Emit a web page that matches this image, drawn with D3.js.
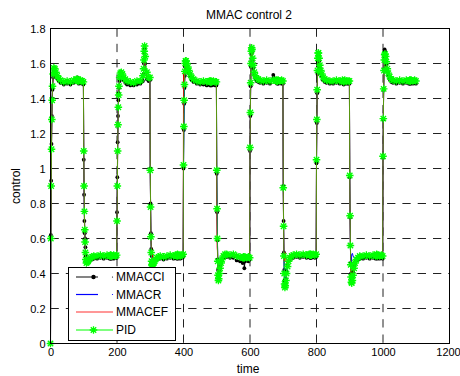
<!DOCTYPE html>
<html lang="en">
<head>
  <meta charset="utf-8">
  <title>MMAC control 2</title>
  <script type="text/javascript" src="https://d3js.org/d3.v7.min.js"></script>
  <style>
    body { margin: 0; background: #fff; }
    text { font-family: "Liberation Sans", Arial, sans-serif; fill: #000; }
  </style>
</head>
<body>
  <script type="text/javascript">

  // start of each 100-step segment and the sample offsets read inside a segment
  var segStart = [0, 100, 200, 300, 400, 500, 600, 700, 800, 900, 1000];
  var offsets = [0, 1, 2, 3, 4, 5, 6, 8, 10, 13, 16, 20, 25, 30, 40, 50, 60, 70, 78, 80, 81, 82, 83, 85, 90, 95, 99];

  var xTicks = [0, 200, 400, 600, 800, 1000, 1200];
  var yTicks = [0, 0.2, 0.4, 0.6, 0.8, 1, 1.2, 1.4, 1.6, 1.8];
  var seriesNames = ["MMACCI", "MMACR", "MMACEF", "PID"];

  // values, one row per segment
  var mmacci = [
    [0, 0.62, 0.93, 1.14, 1.30, 1.40, 1.45, 1.52, 1.555, 1.555, 1.535, 1.515, 1.50, 1.49, 1.48, 1.485, 1.48, 1.49, 1.495, 1.50, 1.52, 1.505, 1.49, 1.485, 1.49, 1.485, 1.48],
    [1.05, 0.85, 0.70, 0.63, 0.60, 0.55, 0.50, 0.47, 0.465, 0.465, 0.47, 0.475, 0.48, 0.485, 0.485, 0.49, 0.485, 0.49, 0.485, 0.49, 0.485, 0.49, 0.485, 0.49, 0.485, 0.49, 0.49],
    [0.75, 0.95, 1.15, 1.30, 1.39, 1.43, 1.46, 1.50, 1.525, 1.53, 1.525, 1.505, 1.49, 1.48, 1.475, 1.475, 1.48, 1.485, 1.50, 1.54, 1.60, 1.66, 1.68, 1.60, 1.51, 1.50, 1.505],
    [1.00, 0.80, 0.63, 0.54, 0.50, 0.475, 0.47, 0.465, 0.465, 0.47, 0.475, 0.48, 0.485, 0.485, 0.48, 0.485, 0.49, 0.485, 0.49, 0.485, 0.49, 0.495, 0.485, 0.49, 0.485, 0.49, 0.495],
    [1.00, 1.22, 1.37, 1.46, 1.53, 1.58, 1.60, 1.60, 1.585, 1.565, 1.545, 1.525, 1.505, 1.495, 1.485, 1.48, 1.48, 1.475, 1.48, 1.475, 1.48, 1.475, 1.48, 1.475, 1.48, 1.475, 1.475],
    [0.97, 0.75, 0.59, 0.48, 0.42, 0.40, 0.40, 0.42, 0.44, 0.46, 0.475, 0.49, 0.495, 0.495, 0.49, 0.49, 0.475, 0.47, 0.46, 0.47, 0.465, 0.47, 0.43, 0.47, 0.475, 0.47, 0.48],
    [1.10, 1.30, 1.47, 1.58, 1.65, 1.67, 1.66, 1.61, 1.57, 1.535, 1.515, 1.50, 1.495, 1.49, 1.485, 1.49, 1.485, 1.535, 1.51, 1.49, 1.49, 1.485, 1.49, 1.485, 1.49, 1.485, 1.485],
    [0.90, 0.70, 0.52, 0.42, 0.36, 0.34, 0.345, 0.37, 0.41, 0.445, 0.47, 0.48, 0.49, 0.49, 0.495, 0.49, 0.495, 0.49, 0.495, 0.49, 0.495, 0.49, 0.495, 0.49, 0.495, 0.49, 0.495],
    [1.03, 1.26, 1.43, 1.54, 1.61, 1.64, 1.645, 1.615, 1.575, 1.545, 1.525, 1.505, 1.495, 1.49, 1.485, 1.485, 1.49, 1.485, 1.49, 1.485, 1.485, 1.48, 1.485, 1.49, 1.485, 1.485, 1.485],
    [0.95, 0.72, 0.56, 0.46, 0.40, 0.375, 0.37, 0.385, 0.41, 0.44, 0.465, 0.475, 0.48, 0.485, 0.485, 0.49, 0.485, 0.49, 0.485, 0.49, 0.495, 0.49, 0.485, 0.49, 0.485, 0.49, 0.485],
    [1.06, 1.28, 1.45, 1.57, 1.64, 1.68, 1.67, 1.635, 1.59, 1.555, 1.53, 1.51, 1.495, 1.49, 1.485, 1.49, 1.485, 1.49, 1.485, 1.49, 1.485, 1.49, 1.485, 1.49, 1.485, 1.49, 1.485]
  ];

  var mmacr = [
    [0, 0.61, 0.91, 1.12, 1.29, 1.40, 1.47, 1.535, 1.57, 1.565, 1.545, 1.525, 1.51, 1.50, 1.495, 1.495, 1.49, 1.50, 1.505, 1.50, 1.505, 1.495, 1.50, 1.495, 1.50, 1.495, 1.49],
    [1.08, 0.88, 0.74, 0.64, 0.57, 0.52, 0.48, 0.465, 0.47, 0.475, 0.485, 0.49, 0.495, 0.50, 0.495, 0.50, 0.495, 0.50, 0.495, 0.50, 0.495, 0.50, 0.495, 0.495, 0.50, 0.495, 0.50],
    [0.72, 0.92, 1.11, 1.26, 1.36, 1.43, 1.475, 1.52, 1.54, 1.545, 1.535, 1.515, 1.505, 1.495, 1.49, 1.485, 1.495, 1.495, 1.515, 1.55, 1.61, 1.67, 1.69, 1.59, 1.515, 1.51, 1.515],
    [0.99, 0.78, 0.62, 0.53, 0.48, 0.46, 0.455, 0.46, 0.465, 0.475, 0.485, 0.49, 0.495, 0.495, 0.49, 0.495, 0.50, 0.495, 0.50, 0.495, 0.50, 0.505, 0.495, 0.50, 0.495, 0.50, 0.505],
    [1.01, 1.23, 1.38, 1.47, 1.545, 1.59, 1.61, 1.61, 1.595, 1.575, 1.555, 1.535, 1.515, 1.505, 1.495, 1.49, 1.49, 1.485, 1.49, 1.485, 1.49, 1.485, 1.49, 1.485, 1.49, 1.485, 1.485],
    [0.98, 0.76, 0.60, 0.48, 0.40, 0.375, 0.38, 0.41, 0.44, 0.47, 0.49, 0.505, 0.505, 0.505, 0.50, 0.50, 0.49, 0.49, 0.485, 0.49, 0.485, 0.49, 0.485, 0.49, 0.485, 0.49, 0.485],
    [1.11, 1.31, 1.48, 1.59, 1.66, 1.68, 1.67, 1.62, 1.58, 1.545, 1.525, 1.51, 1.505, 1.50, 1.495, 1.50, 1.495, 1.50, 1.50, 1.495, 1.50, 1.495, 1.495, 1.50, 1.495, 1.50, 1.495],
    [0.89, 0.68, 0.51, 0.41, 0.35, 0.33, 0.34, 0.37, 0.41, 0.445, 0.47, 0.485, 0.495, 0.50, 0.50, 0.50, 0.505, 0.50, 0.505, 0.50, 0.505, 0.50, 0.505, 0.50, 0.505, 0.50, 0.505],
    [1.04, 1.27, 1.44, 1.55, 1.62, 1.65, 1.655, 1.62, 1.585, 1.555, 1.535, 1.515, 1.505, 1.50, 1.495, 1.495, 1.50, 1.495, 1.50, 1.495, 1.495, 1.49, 1.495, 1.50, 1.495, 1.495, 1.495],
    [0.95, 0.72, 0.55, 0.46, 0.44, 0.47, 0.51, 0.515, 0.50, 0.49, 0.49, 0.495, 0.495, 0.50, 0.495, 0.50, 0.495, 0.50, 0.495, 0.50, 0.505, 0.50, 0.495, 0.50, 0.495, 0.50, 0.495],
    [1.07, 1.29, 1.455, 1.565, 1.635, 1.67, 1.665, 1.64, 1.60, 1.565, 1.54, 1.52, 1.505, 1.50, 1.495, 1.50, 1.495, 1.50, 1.495, 1.50, 1.495, 1.50, 1.495, 1.50, 1.495, 1.50, 1.495]
  ];

  var mmacef = [
    [0, 0.60, 0.90, 1.11, 1.28, 1.39, 1.46, 1.53, 1.565, 1.565, 1.545, 1.525, 1.51, 1.50, 1.495, 1.50, 1.495, 1.50, 1.505, 1.50, 1.505, 1.50, 1.50, 1.495, 1.50, 1.495, 1.49],
    [1.10, 0.89, 0.75, 0.65, 0.58, 0.52, 0.48, 0.46, 0.465, 0.47, 0.48, 0.49, 0.495, 0.50, 0.495, 0.50, 0.495, 0.50, 0.495, 0.50, 0.495, 0.50, 0.495, 0.495, 0.50, 0.495, 0.50],
    [0.70, 0.90, 1.10, 1.25, 1.35, 1.42, 1.47, 1.52, 1.54, 1.545, 1.535, 1.515, 1.505, 1.495, 1.49, 1.485, 1.495, 1.495, 1.515, 1.55, 1.61, 1.67, 1.69, 1.59, 1.515, 1.51, 1.515],
    [0.99, 0.78, 0.61, 0.55, 0.545, 0.53, 0.51, 0.49, 0.48, 0.48, 0.485, 0.49, 0.495, 0.495, 0.49, 0.495, 0.50, 0.495, 0.50, 0.495, 0.50, 0.505, 0.495, 0.50, 0.495, 0.50, 0.505],
    [1.45, 1.56, 1.50, 1.48, 1.55, 1.59, 1.61, 1.61, 1.595, 1.575, 1.555, 1.535, 1.515, 1.505, 1.495, 1.49, 1.49, 1.485, 1.49, 1.485, 1.49, 1.485, 1.49, 1.485, 1.49, 1.485, 1.485],
    [0.80, 0.55, 0.53, 0.48, 0.41, 0.38, 0.385, 0.41, 0.44, 0.47, 0.49, 0.505, 0.505, 0.505, 0.50, 0.50, 0.49, 0.49, 0.485, 0.49, 0.485, 0.49, 0.485, 0.49, 0.485, 0.49, 0.485],
    [1.11, 1.31, 1.48, 1.59, 1.66, 1.68, 1.67, 1.62, 1.58, 1.545, 1.525, 1.51, 1.505, 1.50, 1.495, 1.50, 1.495, 1.50, 1.50, 1.495, 1.50, 1.495, 1.495, 1.50, 1.495, 1.50, 1.495],
    [0.89, 0.67, 0.51, 0.47, 0.49, 0.52, 0.50, 0.47, 0.46, 0.47, 0.48, 0.49, 0.495, 0.50, 0.50, 0.50, 0.505, 0.50, 0.505, 0.50, 0.505, 0.50, 0.505, 0.50, 0.505, 0.50, 0.505],
    [1.04, 1.27, 1.44, 1.55, 1.62, 1.65, 1.655, 1.62, 1.585, 1.555, 1.535, 1.515, 1.505, 1.50, 1.495, 1.495, 1.50, 1.495, 1.50, 1.495, 1.495, 1.49, 1.495, 1.50, 1.495, 1.495, 1.495],
    [0.95, 0.72, 0.55, 0.45, 0.39, 0.36, 0.355, 0.37, 0.40, 0.44, 0.465, 0.48, 0.49, 0.50, 0.495, 0.50, 0.495, 0.50, 0.495, 0.50, 0.505, 0.50, 0.495, 0.50, 0.495, 0.50, 0.495],
    [1.07, 1.29, 1.455, 1.565, 1.635, 1.67, 1.665, 1.64, 1.60, 1.565, 1.54, 1.52, 1.505, 1.50, 1.495, 1.50, 1.495, 1.50, 1.495, 1.50, 1.495, 1.50, 1.495, 1.50, 1.495, 1.50, 1.495]
  ];

  var pid = [
    [0, 0.60, 0.90, 1.11, 1.28, 1.39, 1.47, 1.54, 1.575, 1.57, 1.55, 1.53, 1.515, 1.505, 1.495, 1.50, 1.495, 1.505, 1.51, 1.505, 1.51, 1.50, 1.505, 1.50, 1.505, 1.50, 1.495],
    [1.10, 0.90, 0.755, 0.65, 0.58, 0.52, 0.48, 0.46, 0.465, 0.47, 0.48, 0.49, 0.495, 0.50, 0.50, 0.505, 0.50, 0.505, 0.50, 0.505, 0.50, 0.505, 0.50, 0.50, 0.505, 0.50, 0.505],
    [0.70, 0.90, 1.10, 1.25, 1.35, 1.42, 1.47, 1.52, 1.545, 1.55, 1.54, 1.52, 1.51, 1.50, 1.495, 1.49, 1.50, 1.50, 1.53, 1.57, 1.62, 1.67, 1.70, 1.64, 1.55, 1.52, 1.52],
    [0.99, 0.78, 0.61, 0.52, 0.47, 0.45, 0.445, 0.45, 0.46, 0.47, 0.48, 0.49, 0.495, 0.50, 0.495, 0.50, 0.505, 0.50, 0.505, 0.50, 0.505, 0.51, 0.50, 0.505, 0.50, 0.505, 0.51],
    [1.02, 1.24, 1.39, 1.48, 1.555, 1.60, 1.615, 1.615, 1.60, 1.58, 1.56, 1.54, 1.52, 1.51, 1.50, 1.495, 1.50, 1.495, 1.50, 1.495, 1.50, 1.495, 1.50, 1.495, 1.50, 1.495, 1.495],
    [0.99, 0.77, 0.60, 0.47, 0.39, 0.36, 0.37, 0.40, 0.43, 0.46, 0.48, 0.50, 0.51, 0.51, 0.505, 0.51, 0.50, 0.495, 0.49, 0.495, 0.49, 0.495, 0.49, 0.495, 0.49, 0.495, 0.49],
    [1.12, 1.32, 1.49, 1.60, 1.67, 1.69, 1.68, 1.63, 1.59, 1.55, 1.53, 1.515, 1.51, 1.505, 1.50, 1.505, 1.50, 1.505, 1.505, 1.50, 1.505, 1.50, 1.50, 1.505, 1.50, 1.505, 1.50],
    [0.89, 0.67, 0.50, 0.40, 0.34, 0.32, 0.33, 0.36, 0.40, 0.44, 0.47, 0.49, 0.50, 0.505, 0.51, 0.505, 0.51, 0.505, 0.51, 0.505, 0.51, 0.505, 0.51, 0.505, 0.51, 0.505, 0.51],
    [1.05, 1.28, 1.45, 1.56, 1.63, 1.66, 1.66, 1.63, 1.59, 1.56, 1.54, 1.52, 1.51, 1.505, 1.50, 1.50, 1.505, 1.50, 1.505, 1.50, 1.50, 1.495, 1.50, 1.505, 1.50, 1.50, 1.50],
    [0.96, 0.73, 0.56, 0.45, 0.38, 0.35, 0.345, 0.36, 0.39, 0.43, 0.46, 0.48, 0.49, 0.50, 0.50, 0.505, 0.50, 0.505, 0.50, 0.505, 0.51, 0.505, 0.50, 0.505, 0.50, 0.505, 0.50],
    [1.07, 1.285, 1.455, 1.56, 1.62, 1.65, 1.655, 1.64, 1.61, 1.57, 1.545, 1.525, 1.51, 1.505, 1.50, 1.505, 1.50, 1.505, 1.50, 1.505, 1.50, 1.505, 1.50, 1.505, 1.50, 1.505, 1.50]
  ];

  var width = 460;
  var height = 376;

  var svg = d3.select("body")
    .append("svg")
    .attr("width", width)
    .attr("height", height);

  var x = d3.scaleLinear().domain([0, 1200]).range([50.5, 449.5]);
  var y = d3.scaleLinear().domain([0, 1.8]).range([343.5, 28.5]);

  // turn the segment rows into [time, value] points
  function toPoints(rows) {
    var pts = [];
    rows.forEach(function(row, i) {
      row.forEach(function(v, j) {
        pts.push([segStart[i] + offsets[j], v]);
      });
    });
    return pts;
  }

  var line = d3.line().x(d => x(d[0])).y(d => y(d[1]));

  // dashed grid
  var grid = svg.append("g")
    .attr("stroke", "#222")
    .attr("stroke-width", 1)
    .attr("stroke-dasharray", "8.3,7");

  grid.selectAll("line.h")
    .data(yTicks.slice(1, -1))
    .enter().append("line")
    .attr("x1", x(0)).attr("x2", x(1200))
    .attr("y1", d => y(d)).attr("y2", d => y(d));

  grid.selectAll("line.v")
    .data(xTicks.slice(1, -1))
    .enter().append("line")
    .attr("y1", y(1.8)).attr("y2", y(0))
    .attr("x1", d => x(d)).attr("x2", d => x(d));

  // axes (ticks hidden, labels only)
  var xAxis = svg.append("g")
    .attr("transform", "translate(0," + y(0) + ")")
    .call(d3.axisBottom(x).tickValues(xTicks).tickSize(0).tickPadding(5).tickFormat(d3.format("d")));
  var yAxis = svg.append("g")
    .attr("transform", "translate(" + x(0) + ",0)")
    .call(d3.axisLeft(y).tickValues(yTicks).tickSize(0).tickPadding(5).tickFormat(d => d3.format("~g")(d)));

  [xAxis, yAxis].forEach(function(a) {
    a.select(".domain").remove();
    a.selectAll("text")
      .attr("font-family", "Liberation Sans, Arial, sans-serif")
      .attr("font-size", "11px")
      .attr("fill", "#000");
  });
  // last x label sits against the right edge of the figure
  xAxis.selectAll(".tick text").filter(d => d == 1200).attr("dx", -1.5);

  // the four series, PID drawn last (on top)
  var series = [
    { pts: toPoints(mmacci), color: "#000", opacity: 1 },
    { pts: toPoints(mmacr), color: "#0000ff", opacity: 1 },
    { pts: toPoints(mmacef), color: "#ff0000", opacity: 0.85 },
    { pts: toPoints(pid), color: "#00ff00", opacity: 0.6 }
  ];

  var plot = svg.append("g");

  plot.append("path")
    .datum(series[0].pts)
    .attr("fill", "none")
    .attr("stroke", "#000")
    .attr("stroke-width", 1)
    .attr("d", line);

  plot.append("g")
    .attr("fill", "#000")
    .selectAll("circle")
    .data(series[0].pts)
    .enter().append("circle")
    .attr("cx", d => x(d[0]))
    .attr("cy", d => y(d[1]))
    .attr("r", 1.9);

  series.slice(1).forEach(function(s) {
    plot.append("path")
      .datum(s.pts)
      .attr("fill", "none")
      .attr("stroke", s.color)
      .attr("stroke-opacity", s.opacity)
      .attr("stroke-width", 1)
      .attr("d", line);
  });

  var star = "M-3.8,0H3.8M0,-3.8V3.8M-2.7,-2.7L2.7,2.7M-2.7,2.7L2.7,-2.7";

  plot.append("g")
    .attr("stroke", "#00ff00")
    .attr("stroke-width", 1.3)
    .attr("fill", "none")
    .selectAll("path")
    .data(series[3].pts)
    .enter().append("path")
    .attr("transform", d => "translate(" + x(d[0]) + "," + y(d[1]) + ")")
    .attr("d", star);

  // axes box
  svg.append("rect")
    .attr("x", x(0)).attr("y", y(1.8))
    .attr("width", x(1200) - x(0))
    .attr("height", y(0) - y(1.8))
    .attr("fill", "none")
    .attr("stroke", "#000")
    .attr("stroke-width", 1);

  // titles
  svg.append("text")
    .attr("x", 249).attr("y", 18.5)
    .attr("text-anchor", "middle")
    .attr("font-size", "12px")
    .text("MMAC control 2");

  svg.append("text")
    .attr("x", 248).attr("y", 372.5)
    .attr("text-anchor", "middle")
    .attr("font-size", "12px")
    .text("time");

  svg.append("text")
    .attr("transform", "translate(20,186) rotate(-90)")
    .attr("text-anchor", "middle")
    .attr("font-size", "12px")
    .text("control");

  // legend
  var legend = svg.append("g");
  legend.append("rect")
    .attr("x", 68.5).attr("y", 267.5)
    .attr("width", 107).attr("height", 73)
    .attr("fill", "#fff")
    .attr("stroke", "#000")
    .attr("stroke-width", 1);

  var rowY = [277, 294.5, 312, 330];
  var lineEnd = [98, 98, 113, 113];
  var legColor = ["#333", "#0000ff", "#ff3030", "#00ff00"];

  seriesNames.forEach(function(name, i) {
    var g = legend.append("g");
    g.append("line")
      .attr("x1", 76).attr("x2", lineEnd[i])
      .attr("y1", rowY[i]).attr("y2", rowY[i])
      .attr("stroke", legColor[i])
      .attr("stroke-width", 1.2);
    if (i < 2) {
      g.append("circle")
        .attr("cx", 112.5).attr("cy", rowY[i]).attr("r", 0.6)
        .attr("fill", i == 0 ? "#000" : "#0000ff");
    }
    if (i == 0) {
      g.append("circle")
        .attr("cx", 93.5).attr("cy", rowY[i]).attr("r", 2.2)
        .attr("fill", "#000");
    }
    if (i == 3) {
      g.append("path")
        .attr("transform", "translate(93.5," + rowY[i] + ")")
        .attr("d", star)
        .attr("stroke", "#00ff00")
        .attr("stroke-width", 1.3);
    }
    g.append("text")
      .attr("x", 116).attr("y", rowY[i])
      .attr("dy", "0.35em")
      .attr("font-size", "12px")
      .text(name);
  });

  </script>
</body>
</html>
